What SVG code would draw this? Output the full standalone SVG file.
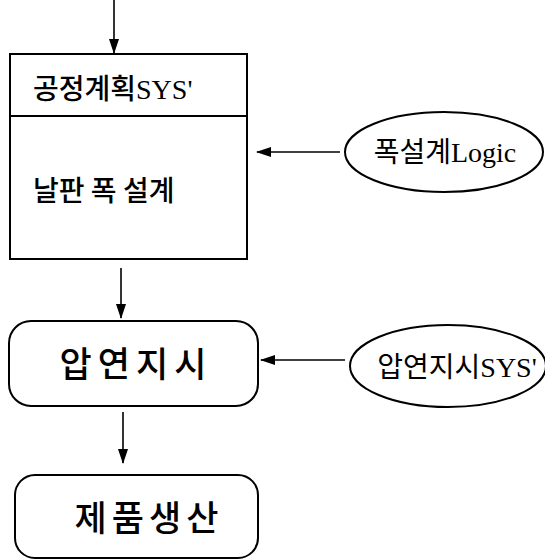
<svg xmlns="http://www.w3.org/2000/svg" width="545" height="560" viewBox="0 0 545 560">
<style>
.box{fill:#fff;stroke:#000;stroke-width:2}
.ln{stroke:#000;stroke-width:1.6;fill:none;marker-end:url(#ah)}
.kb{font-family:"Noto Sans CJK KR",sans-serif;font-weight:500;fill:#000}
.ks{font-family:"Liberation Serif","Noto Sans CJK KR",serif;fill:#000}
</style>
<defs>
<marker id="ah" markerWidth="15" markerHeight="10" refX="14" refY="5" orient="auto" markerUnits="userSpaceOnUse">
<path d="M0,0 L15,5 L0,10 Z" fill="#000"/>
</marker>
</defs>
<g id="connectors">
<line class="ln" x1="114" y1="0" x2="114" y2="53"/>
<line class="ln" x1="121" y1="268" x2="121" y2="318"/>
<line class="ln" x1="123" y1="412" x2="123" y2="463"/>
<line class="ln" x1="340" y1="152" x2="257" y2="152"/>
<line class="ln" x1="345" y1="360" x2="261" y2="360"/>
</g>
<g id="plan">
<rect class="box" x="10" y="54" width="237" height="205"/>
<line x1="10" y1="116" x2="247" y2="116" stroke="#000" stroke-width="2"/>
<text class="kb" x="33" y="99" font-size="28" font-weight="400">공정계획<tspan font-family="Liberation Serif">SYS'</tspan></text>
<text class="kb" x="33" y="201" font-size="28">날판 폭 설계</text>
</g>
<g id="rolling">
<rect class="box" x="9" y="321" width="249" height="85" rx="22"/>
<text class="kb" x="136" y="377" font-size="35" text-anchor="middle" letter-spacing="6">압연지시</text>
</g>
<g id="product">
<rect class="box" x="15" y="475" width="243" height="83" rx="20"/>
<text class="kb" x="149" y="531" font-size="35" text-anchor="middle" letter-spacing="5">제품생산</text>
</g>
<g id="logic">
<ellipse class="box" cx="444" cy="152" rx="99" ry="40" stroke-width="1.6"/>
<text class="ks" x="445" y="162" font-size="28" text-anchor="middle">폭설계Logic</text>
</g>
<g id="rollsys">
<ellipse class="box" cx="448" cy="366" rx="98" ry="41" stroke-width="1.6"/>
<text class="ks" x="457" y="377" font-size="28" text-anchor="middle">압연지시SYS'</text>
</g>
</svg>
